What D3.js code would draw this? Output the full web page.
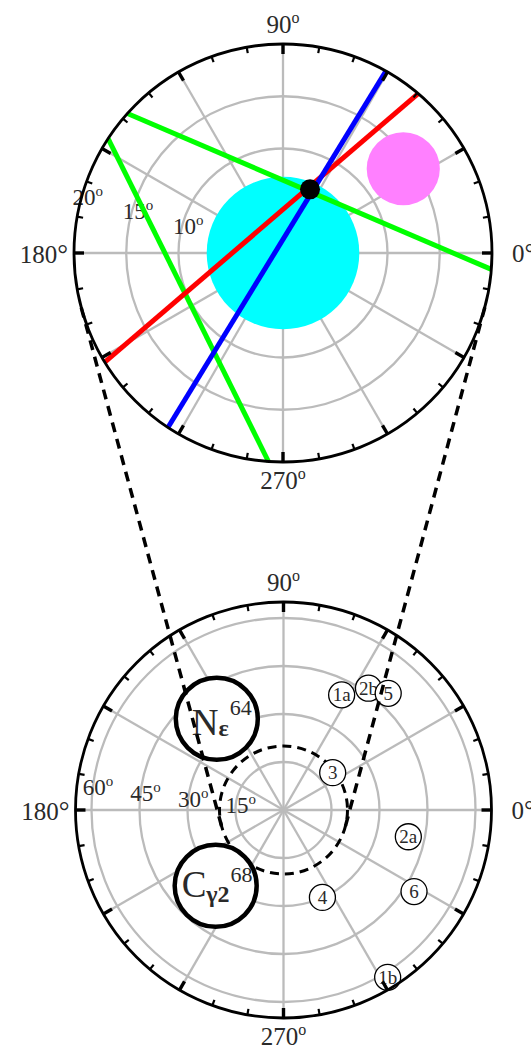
<!DOCTYPE html>
<html>
<head>
<meta charset="utf-8">
<script src="https://cdn.jsdelivr.net/npm/d3@7"></script>
<style>
  html, body { margin: 0; background: #fff; }
  svg { display: block; }
  text { font-family: "Liberation Serif", "Times New Roman", serif; fill: #2a2a2a; }
</style>
</head>
<body>
<svg id="fig" width="531" height="1051"></svg>
<script>
// ---------- upper panel: close-up of the central 20° ----------
const upperMax = 20;
const upperRings = [5, 10, 15];
const upperRingLabels = [10, 15, 20];
const diskTheta = [0, 35];
const diskRho = [0, 14.05];
const diskSize = [7.3, 3.5];
const diskFill = ["#00ffff", "#ff80ff"];
const traceFrom = [138.1, 146.8, 49.7, 60.5];
const traceTo = [355.5, 266.0, 211.5, 236.6];
const traceColor = ["#00ff00", "#00ff00", "#ff0000", "#0000ff"];
const pivotTheta = [67.0];
const pivotRho = [6.62];

// ---------- lower panel: full 65° field ----------
const lowerMax = 65;
const lowerRings = [15, 30, 45, 60];
const lowerRingLabels = [15, 30, 45, 60];
const windowRho = 20;
const siteLabel = ["1a", "2b", "5", "3", "2a", "6", "4", "1b"];
const siteTheta = [63.2, 55.1, 48.1, 37.2, -12.1, -32.0, -66.0, -58.1];
const siteRho = [40.3, 46.4, 49.0, 19.3, 39.9, 48.1, 29.9, 61.6];
const atomBase = ["N", "C"];
const atomSub = ["ε", "γ2"];
const atomSup = ["64", "68"];
const atomTheta = [126.2, 228.2];
const atomRho = [35.3, 31.8];

// ---------- shared angular furniture ----------
const spokeAngles = [0, 30, 60, 90, 120, 150, 180, 210, 240, 270, 300, 330];
const tickAngles = d3.range(0, 360, 10);
const compassAngles = [0, 90, 180, 270];
const compassMark = ["°", "o", "°", "o"];

const svg = d3.select("#fig");
const upper = { cx: 283, cy: 253, R: 209 };
const lower = { cx: 283.5, cy: 810, R: 208 };
const rUpper = d3.scaleLinear().domain([0, upperMax]).range([0, upper.R]);
const rLower = d3.scaleLinear().domain([0, lowerMax]).range([0, lower.R]);
const toRad = d3.scaleLinear().domain([0, 180]).range([0, Math.PI]);

function pt(panel, rScale, theta, rho) {
  const a = toRad(theta), r = rScale(rho);
  return [panel.cx + r * Math.cos(a), panel.cy - r * Math.sin(a)];
}

function drawGrid(g, panel, rScale, rings) {
  const maxRho = rScale.domain()[1];
  g.append("g").selectAll("line").data(spokeAngles).join("line")
    .attr("x1", panel.cx).attr("y1", panel.cy)
    .attr("x2", d => pt(panel, rScale, d, maxRho)[0])
    .attr("y2", d => pt(panel, rScale, d, maxRho)[1])
    .attr("stroke", "#bbb").attr("stroke-width", 2.3);
  g.append("g").selectAll("circle").data(rings).join("circle")
    .attr("cx", panel.cx).attr("cy", panel.cy).attr("r", d => rScale(d))
    .attr("fill", "none").attr("stroke", "#bbb").attr("stroke-width", 2.3);
}

function drawFrame(g, panel, rScale) {
  const maxRho = rScale.domain()[1];
  const inner = d => rScale.invert(panel.R - (d % 30 === 0 ? 10 : 6));
  g.append("g").selectAll("line").data(tickAngles).join("line")
    .attr("x1", d => pt(panel, rScale, d, maxRho)[0])
    .attr("y1", d => pt(panel, rScale, d, maxRho)[1])
    .attr("x2", d => pt(panel, rScale, d, inner(d))[0])
    .attr("y2", d => pt(panel, rScale, d, inner(d))[1])
    .attr("stroke", "#000").attr("stroke-width", d => d % 30 === 0 ? 3.4 : 2.2);
  g.append("circle")
    .attr("cx", panel.cx).attr("cy", panel.cy).attr("r", panel.R)
    .attr("fill", "none").attr("stroke", "#000").attr("stroke-width", 2.8);
}

function drawCompass(g, panel) {
  const place = {
    0:   { x: panel.cx + panel.R + 20, y: panel.cy + 9, anchor: "start" },
    90:  { x: panel.cx, y: panel.cy - panel.R - 11, anchor: "middle" },
    180: { x: panel.cx - panel.R - 6, y: panel.cy + 10, anchor: "end" },
    270: { x: panel.cx, y: panel.cy + panel.R + 27, anchor: "middle" }
  };
  compassAngles.forEach((a, i) => {
    const p = place[a];
    const t = g.append("text").attr("x", p.x).attr("y", p.y)
      .attr("text-anchor", p.anchor).attr("font-size", 25);
    t.append("tspan").text(a);
    if (compassMark[i] === "o") {
      t.append("tspan").attr("font-size", 16).attr("dy", -10).text("o");
    } else {
      t.append("tspan").attr("font-size", 27).text("°");
    }
  });
}

function drawRingLabels(g, panel, rScale, labels, theta, inset) {
  labels.forEach(v => {
    const p = pt(panel, rScale, theta, rScale.invert(rScale(v) - inset));
    const t = g.append("text").attr("x", p[0]).attr("y", p[1] + 8)
      .attr("text-anchor", "middle").attr("font-size", 23);
    t.append("tspan").text(v);
    t.append("tspan").attr("font-size", 15).attr("dy", -9).text("o");
  });
}

// ================= upper panel =================
const gU = svg.append("g");
drawGrid(gU, upper, rUpper, upperRings);

gU.append("g").selectAll("circle").data(diskTheta).join("circle")
  .attr("cx", (d, i) => pt(upper, rUpper, d, diskRho[i])[0])
  .attr("cy", (d, i) => pt(upper, rUpper, d, diskRho[i])[1])
  .attr("r", (d, i) => rUpper(diskSize[i]))
  .attr("fill", (d, i) => diskFill[i]);

drawRingLabels(gU, upper, rUpper, upperRingLabels, 164, 6);

gU.append("g").selectAll("line").data(traceFrom).join("line")
  .attr("x1", d => pt(upper, rUpper, d, upperMax)[0])
  .attr("y1", d => pt(upper, rUpper, d, upperMax)[1])
  .attr("x2", (d, i) => pt(upper, rUpper, traceTo[i], upperMax)[0])
  .attr("y2", (d, i) => pt(upper, rUpper, traceTo[i], upperMax)[1])
  .attr("stroke", (d, i) => traceColor[i]).attr("stroke-width", 5);

gU.append("g").selectAll("circle").data(pivotTheta).join("circle")
  .attr("cx", (d, i) => pt(upper, rUpper, d, pivotRho[i])[0])
  .attr("cy", (d, i) => pt(upper, rUpper, d, pivotRho[i])[1])
  .attr("r", 10).attr("fill", "#000");

drawFrame(gU, upper, rUpper);
drawCompass(gU, upper);

// ================= lower panel =================
const gL = svg.append("g");
drawGrid(gL, lower, rLower, lowerRings);
drawRingLabels(gL, lower, rLower, lowerRingLabels, 173, 5);

// outline of the magnified window
gL.append("circle")
  .attr("cx", lower.cx).attr("cy", lower.cy).attr("r", rLower(windowRho))
  .attr("fill", "none").attr("stroke", "#000").attr("stroke-width", 3)
  .attr("stroke-dasharray", "9,6");

// labelled atoms
const atomNudge = [{ x: -25, y: 16, sub: 1.5, sup: -21 }, { x: -34, y: 11, sub: 5, sup: -20 }];
atomBase.forEach((name, i) => {
  const c = pt(lower, rLower, atomTheta[i], atomRho[i]);
  gL.append("circle").attr("cx", c[0]).attr("cy", c[1]).attr("r", 41)
    .attr("fill", "#fff").attr("stroke", "#000").attr("stroke-width", 4.5);
  const n = atomNudge[i];
  const t = gL.append("text").attr("x", c[0] + n.x).attr("y", c[1] + n.y);
  t.append("tspan").attr("font-size", 37).text(name);
  t.append("tspan").attr("font-size", 24).attr("font-weight", "bold").attr("dy", n.sub).text(atomSub[i]);
  t.append("tspan").attr("font-size", 22).attr("dx", 1).attr("dy", n.sup).text(atomSup[i]);
});

// numbered sites
const sites = gL.append("g").selectAll("g").data(siteLabel).join("g")
  .attr("transform", (d, i) => {
    const p = pt(lower, rLower, siteTheta[i], siteRho[i]);
    return `translate(${p[0]},${p[1]})`;
  });
sites.append("circle").attr("r", 13).attr("fill", "#fff")
  .attr("stroke", "#000").attr("stroke-width", 1.3);
sites.append("text").attr("text-anchor", "middle").attr("dy", 6.5)
  .attr("font-size", 19).text(d => d);

drawFrame(gL, lower, rLower);
drawCompass(gL, lower);

// ================= connectors between the panels =================
const r2 = rLower(windowRho);
const ddx = lower.cx - upper.cx, ddy = lower.cy - upper.cy;
const dist = Math.hypot(ddx, ddy);
const baseAng = Math.atan2(ddy, ddx);
const alpha = Math.acos((upper.R - r2) / dist);
svg.append("g").selectAll("line").data([-1, 1]).join("line")
  .each(function (s) {
    const a = baseAng + s * alpha, nx = Math.cos(a), ny = Math.sin(a);
    d3.select(this)
      .attr("x1", upper.cx + upper.R * nx).attr("y1", upper.cy + upper.R * ny)
      .attr("x2", lower.cx + r2 * nx).attr("y2", lower.cy + r2 * ny);
  })
  .attr("stroke", "#000").attr("stroke-width", 3.5).attr("stroke-dasharray", "10,7");
</script>
</body>
</html>
